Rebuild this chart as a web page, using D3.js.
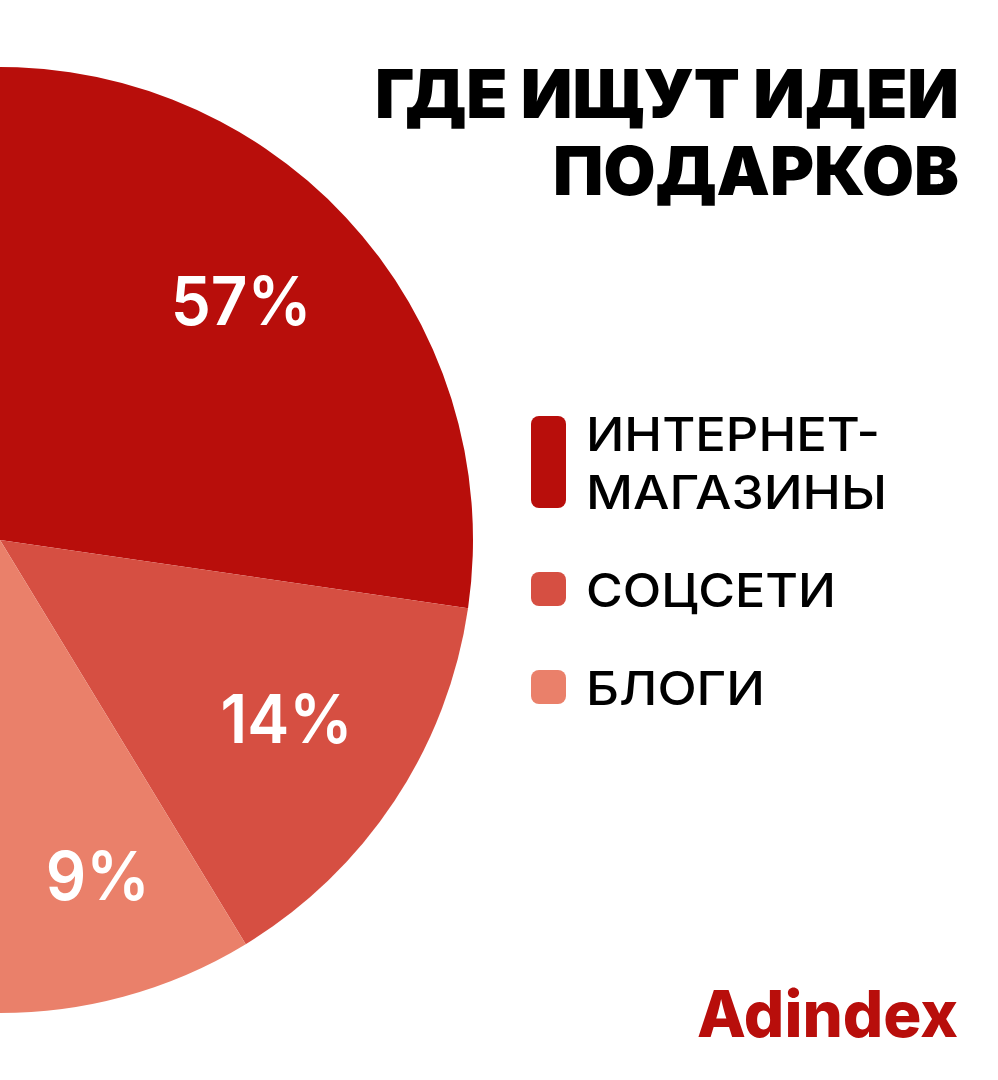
<!DOCTYPE html>
<html>
<head>
<meta charset="utf-8">
<script src="https://cdn.jsdelivr.net/npm/d3@7"></script>
<style>
  html, body { margin: 0; padding: 0; background: #ffffff; }
  svg { display: block; }
</style>
</head>
<body>
<svg id="chart" width="998" height="1080"></svg>
<script>
// ---- data ----
const categories = ["ИНТЕРНЕТ-МАГАЗИНЫ", "СОЦСЕТИ", "БЛОГИ"];
const legendLines = [["ИНТЕРНЕТ-", "МАГАЗИНЫ"], ["СОЦСЕТИ"], ["БЛОГИ"]];
const values = [57, 14, 9];
const valueLabels = ["57%", "14%", "9%"];
const colors = ["#B80E0B", "#D64F42", "#EA806A"];
const titleLines = ["ГДЕ ИЩУТ ИДЕИ", "ПОДАРКОВ"];
const brand = "Adindex";

// ---- layout ----
const W = 998, H = 1080;
const svg = d3.select("#chart");
svg.append("rect").attr("width", W).attr("height", H).attr("fill", "#ffffff");

const FONT = "Inter, 'Open Sans', sans-serif";
const cx = 0, cy = 540, R = 473;
const deg = Math.PI / 180;
const firstEnd = 98.3 * deg; // end angle of first slice (clockwise from 12 o'clock)
const start = firstEnd - 2 * Math.PI * values[0] / 100;
const pie = d3.pie().sort(null).value(d => d)
  .startAngle(start)
  .endAngle(start + 2 * Math.PI * d3.sum(values) / 100);
const arcs = pie(values);
const arc = d3.arc().innerRadius(0).outerRadius(R);

const g = svg.append("g").attr("transform", `translate(${cx},${cy})`);
g.selectAll("path.slice").data(arcs).enter().append("path")
  .attr("class", "slice")
  .attr("d", arc)
  .attr("fill", (d, i) => colors[i]);

// fit helper: stretch text horizontally to a target width
function fitWidth(sel, target) {
  sel.attr("textLength", target).attr("lengthAdjust", "spacingAndGlyphs");
}

// value labels placed around the middle of the visible part of each slice
const labelR = 340;
const labelNudge = [[-16, -18], [3, -10], [6, 8]];
const labelWidths = [141, 132, 104];
arcs.forEach((d, i) => {
  const a0 = Math.max(d.startAngle, 0), a1 = Math.min(d.endAngle, Math.PI);
  const a = (a0 + a1) / 2;
  const x = labelR * Math.sin(a) + labelNudge[i][0];
  const y = -labelR * Math.cos(a) + labelNudge[i][1];
  const t = g.append("text")
    .attr("x", x).attr("y", y + 25)
    .attr("text-anchor", "middle")
    .attr("font-family", FONT)
    .attr("font-weight", 600)
    .attr("font-size", 68)
    .attr("fill", "#ffffff")
    .text(valueLabels[i]);
  fitWidth(t, labelWidths[i]);
});

// title
const titleG = svg.append("g");
const titleBase = [118, 195];
const titleWidths = [584, 406];
titleLines.forEach((t, i) => {
  const tx = titleG.append("text")
    .attr("x", 959).attr("y", titleBase[i])
    .attr("text-anchor", "end")
    .attr("font-family", FONT)
    .attr("font-weight", 900)
    .attr("font-size", 68)
    .attr("fill", "#000000")
    .text(t);
  fitWidth(tx, titleWidths[i]);
});

// legend
const legX = 531, swW = 35, lineH = 58, gap = 64;
const legendWidths = [[294, 301], [250], [179]];
let y = 416;
const legG = svg.append("g");
legendLines.forEach((lines, i) => {
  const h = 34 + (lines.length - 1) * lineH;
  legG.append("rect")
    .attr("x", legX).attr("y", y).attr("width", swW).attr("height", h)
    .attr("rx", 8).attr("ry", 8)
    .attr("fill", colors[i]);
  lines.forEach((ln, j) => {
    const t = legG.append("text")
      .attr("x", 586).attr("y", y + 35 + j * lineH)
      .attr("font-family", FONT)
      .attr("font-weight", 500)
      .attr("font-size", 47)
      .attr("fill", "#000000")
      .text(ln);
    fitWidth(t, legendWidths[i][j]);
  });
  y += h + gap;
});

// brand
const b = svg.append("text")
  .attr("x", 958).attr("y", 1037)
  .attr("text-anchor", "end")
  .attr("font-family", FONT)
  .attr("font-weight", 800)
  .attr("font-size", 64)
  .attr("fill", "#B80E0B")
  .text(brand);
fitWidth(b, 261);
</script>
</body>
</html>
